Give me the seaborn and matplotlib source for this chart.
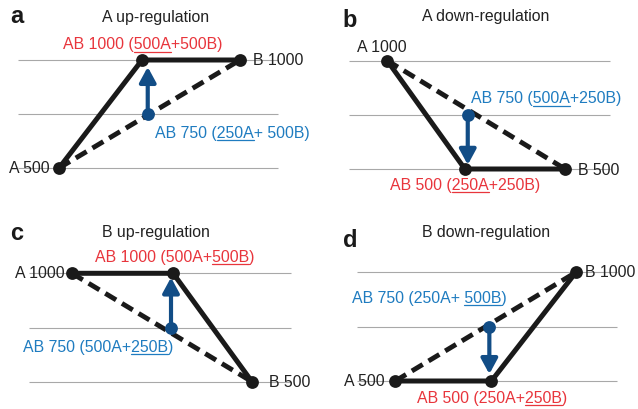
import matplotlib
matplotlib.use("Agg")
import matplotlib.pyplot as plt
from matplotlib.lines import Line2D
import seaborn as sns

W, H = 638, 409

# diagram content
letters = ["a", "b", "c", "d"]
titles = ["A up-regulation", "A down-regulation", "B up-regulation", "B down-regulation"]
levels = [500, 750, 1000]

# nodes per panel, order: A, AB (after regulation), B
node_x = [[0.158, 0.477, 0.854], [0.146, 0.444, 0.828],
          [0.164, 0.550, 0.851], [0.147, 0.517, 0.842]]
node_y = [[500, 1000, 1000], [1000, 500, 500],
          [1000, 1000, 500], [500, 500, 1000]]
# AB before regulation
mid_x = [0.499, 0.455, 0.542, 0.509]
mid_y = [750, 750, 750, 750]

a_labels = ["A 500", "A 1000", "A 1000", "A 500"]
b_labels = ["B 1000", "B 500", "B 500", "B 1000"]
# (before, underlined, after)
new_labels = [("AB 1000 (", "500A", "+500B)"),
              ("AB 500 (", "250A", "+250B)"),
              ("AB 1000 (500A+", "500B", ")"),
              ("AB 500 (250A+", "250B", ")")]
old_labels = [("AB 750 (", "250A", "+ 500B)"),
              ("AB 750 (", "500A", "+250B)"),
              ("AB 750 (500A+", "250B", ")"),
              ("AB 750 (250A+ ", "500B", ")")]

# layout in pixels: gray-line box (x0, x1, y_top, y_bottom)
boxes = [(18, 278, 60, 168), (349, 610, 60.5, 169),
         (29, 291, 273.3, 381.7), (357, 617, 272.3, 381)]
letter_pos = [(10, 23), (342.7, 27), (10, 240), (342.7, 247)]
title_pos = [(155.5, 22), (485.8, 21), (155.5, 237), (485.8, 237)]
# (x, y, ha)
a_pos = [(50, 173, "right"), (357, 51.7, "left"), (65, 278, "right"), (385, 386, "right")]
b_pos = [(253, 65, "left"), (578, 175, "left"), (269, 386.7, "left"), (585, 276.7, "left")]
new_pos = [(143, 49.3, "center"), (465, 190, "center"), (175, 262, "center"), (417, 403, "left")]
old_pos = [(155, 138, "left"), (471, 103.3, "left"), (23, 351.7, "left"), (352, 303, "left")]
arrow_shrink = [5, 3, 3, 5]

RED = "#e8353c"
BLUE = "#1f7cc0"
DARK = "#124d86"
INK = "#1a1a1a"
FS = 11.4

sns.set_theme(style="white")
plt.rcParams["font.family"] = ["Liberation Sans", "DejaVu Sans"]

fig = plt.figure(figsize=(W / 100, H / 100), dpi=100)
fig.patch.set_facecolor("white")
renderer = fig.canvas.get_renderer()


def px(x, y):
    return x / W, 1 - y / H


def text_width(s):
    t = fig.text(0, 0, s, fontsize=FS)
    w = t.get_window_extent(renderer).width
    t.remove()
    return w


def underlined_text(x, y, ha, parts, color):
    before, under, after = parts
    full = before + under + after
    total = text_width(full)
    start = x - {"left": 0, "center": total / 2, "right": total}[ha]
    u_end = text_width(before + under)
    u_start = u_end - text_width(under)
    fig.text(*px(start, y), full, fontsize=FS, ha="left", va="baseline", color=color)
    uy = y + 2.2
    fig.add_artist(Line2D([(start + u_start) / W, (start + u_end) / W],
                          [1 - uy / H, 1 - uy / H], color=color, lw=0.9))


for i in range(4):
    x0, x1, yt, yb = boxes[i]
    ax = fig.add_axes([x0 / W, 1 - yb / H, (x1 - x0) / W, (yb - yt) / H])
    ax.set_xlim(0, 1)
    ax.set_ylim(500, 1000)
    ax.axis("off")

    ax.hlines(levels, 0, 1, color="#a8a8a8", lw=0.8, zorder=1, clip_on=False)

    xs, ys = node_x[i], node_y[i]
    sns.lineplot(x=[xs[0], xs[2]], y=[ys[0], ys[2]], ax=ax, color=INK, lw=3.5,
                 linestyle=(0, (2.6, 1.4)), sort=False, estimator=None, clip_on=False, zorder=2)
    sns.lineplot(x=xs, y=ys, ax=ax, color=INK, lw=3.6, sort=False, estimator=None,
                 clip_on=False, zorder=3, solid_capstyle="round")
    sns.scatterplot(x=xs, y=ys, ax=ax, color=INK, s=85, linewidth=0,
                    clip_on=False, zorder=4)

    ax.annotate("", xy=(mid_x[i], ys[1]), xytext=(mid_x[i], mid_y[i]),
                arrowprops=dict(arrowstyle="-|>,head_length=0.7,head_width=0.38",
                                color=DARK, lw=3, shrinkA=0, shrinkB=arrow_shrink[i],
                                mutation_scale=13), zorder=5)
    sns.scatterplot(x=[mid_x[i]], y=[mid_y[i]], ax=ax, color=DARK, s=85, linewidth=0,
                    clip_on=False, zorder=6)

    fig.text(*px(*letter_pos[i]), letters[i], fontsize=17, fontweight="bold",
             ha="left", va="baseline", color=INK)
    fig.text(*px(*title_pos[i]), titles[i], fontsize=FS, ha="center", va="baseline", color="#222222")
    for (tx, ty, ha), label in [(a_pos[i], a_labels[i]), (b_pos[i], b_labels[i])]:
        fig.text(*px(tx, ty), label, fontsize=FS, ha=ha, va="baseline", color="#222222")
    underlined_text(*new_pos[i], new_labels[i], RED)
    underlined_text(*old_pos[i], old_labels[i], BLUE)

fig.savefig("out.png", dpi=100)
